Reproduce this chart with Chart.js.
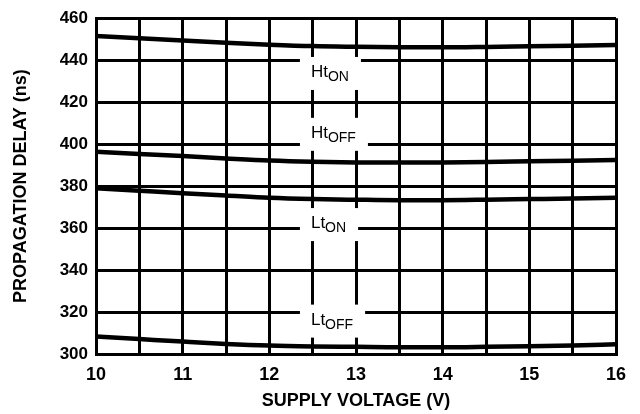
<!DOCTYPE html>
<html>
<head>
<meta charset="utf-8">
<script src="https://cdn.jsdelivr.net/npm/chart.js@4.4.1/dist/chart.umd.min.js"></script>
<style>
  body { margin: 0; background: #fff; }
  #wrap { width: 640px; height: 414px; }
</style>
</head>
<body>
<div id="wrap"><canvas id="delayChart"></canvas></div>
<script>
// supply voltage (V) and propagation delay (ns)
const voltage = [10, 10.5, 11, 11.5, 12, 12.5, 13, 13.5, 14, 14.5, 15, 15.5, 16];
const htOn  = [451.5, 450.5, 449.4, 448.3, 447.4, 446.7, 446.4, 446.2, 446.1, 446.3, 446.6, 446.9, 447.2];
const htOff = [396.4, 395.3, 394.3, 393.2, 392.2, 391.6, 391.3, 391.2, 391.3, 391.5, 391.8, 392.1, 392.4];
const ltOn  = [379.0, 377.8, 376.6, 375.5, 374.4, 373.8, 373.5, 373.3, 373.3, 373.5, 373.8, 374.1, 374.5];
const ltOff = [308.3, 307.1, 305.9, 304.8, 304.0, 303.6, 303.4, 303.2, 303.2, 303.4, 303.7, 304.1, 304.6];

// curve labels (name + subscript) and where they sit, in axis units
const curveNames = ['Ht', 'Ht', 'Lt', 'Lt'];
const curveSubs = ['ON', 'OFF', 'ON', 'OFF'];
const labelVoltage = [12.48, 12.48, 12.48, 12.48];
const labelDelay = [432, 403, 360, 314];

const FONT = '"Liberation Sans", Arial, Helvetica, sans-serif';
Chart.defaults.font.family = FONT;
Chart.defaults.color = '#000';

function toPoints(ys) {
    return voltage.map((v, i) => ({ x: v, y: ys[i] }));
}

// white boxes behind the labels knock out the grid, then the text on top
const curveLabels = {
    id: 'curveLabels',
    beforeDatasetsDraw(chart) {
        const ctx = chart.ctx;
        const xs = chart.scales.x, ys = chart.scales.y;
        ctx.save();
        ctx.textAlign = 'left';
        ctx.textBaseline = 'alphabetic';
        for (let i = 0; i < curveNames.length; i++) {
            const x = xs.getPixelForValue(labelVoltage[i]);
            const y = ys.getPixelForValue(labelDelay[i]);
            ctx.font = '17px ' + FONT;
            const w1 = ctx.measureText(curveNames[i]).width;
            ctx.font = '14px ' + FONT;
            const w2 = ctx.measureText(curveSubs[i]).width;
            ctx.fillStyle = '#fff';
            ctx.fillRect(x - 11, y - 20, w1 + w2 + 23, 33);
            ctx.fillStyle = '#000';
            ctx.font = '17px ' + FONT;
            ctx.fillText(curveNames[i], x, y);
            ctx.font = '14px ' + FONT;
            ctx.fillText(curveSubs[i], x + w1, y + 4);
        }
        ctx.restore();
    }
};

function curve(label, ys) {
    return {
        label: label,
        data: toPoints(ys),
        borderColor: '#000',
        borderWidth: 4.5,
        pointRadius: 0,
        fill: false,
        cubicInterpolationMode: 'monotone'
    };
}

const ctx = document.getElementById('delayChart').getContext('2d');
new Chart(ctx, {
    type: 'line',
    data: {
        datasets: [
            curve('HtON', htOn),
            curve('HtOFF', htOff),
            curve('LtON', ltOn),
            curve('LtOFF', ltOff)
        ]
    },
    options: {
        responsive: true,
        maintainAspectRatio: false,
        animation: false,
        layout: { padding: { top: 16, right: 24, left: 0, bottom: 0 } },
        plugins: {
            legend: { display: false },
            tooltip: { enabled: false }
        },
        scales: {
            x: {
                type: 'linear',
                min: 10,
                max: 16,
                afterFit(scale) { scale.height = 60; },
                ticks: {
                    stepSize: 0.5,
                    autoSkip: false,
                    maxRotation: 0,
                    padding: 10,
                    font: { size: 18, weight: 'bold' },
                    callback: v => Number.isInteger(v) ? v : ''
                },
                grid: { color: '#000', lineWidth: 3, drawTicks: false },
                border: { color: '#000', width: 3 },
                title: {
                    display: true,
                    text: 'SUPPLY VOLTAGE (V)',
                    font: { size: 18, weight: 'bold' },
                    padding: { top: 0, bottom: 2 }
                }
            },
            y: {
                min: 300,
                max: 460,
                afterFit(scale) { scale.width = 96; },
                ticks: {
                    stepSize: 20,
                    padding: 8,
                    font: { size: 17, weight: 'bold' }
                },
                grid: { color: '#000', lineWidth: 3, drawTicks: false },
                border: { color: '#000', width: 3 },
                title: {
                    display: true,
                    text: 'PROPAGATION DELAY (ns)',
                    font: { size: 18, weight: 'bold' },
                    padding: { top: 10, bottom: 0 }
                }
            }
        }
    },
    plugins: [curveLabels]
});
</script>
</body>
</html>
